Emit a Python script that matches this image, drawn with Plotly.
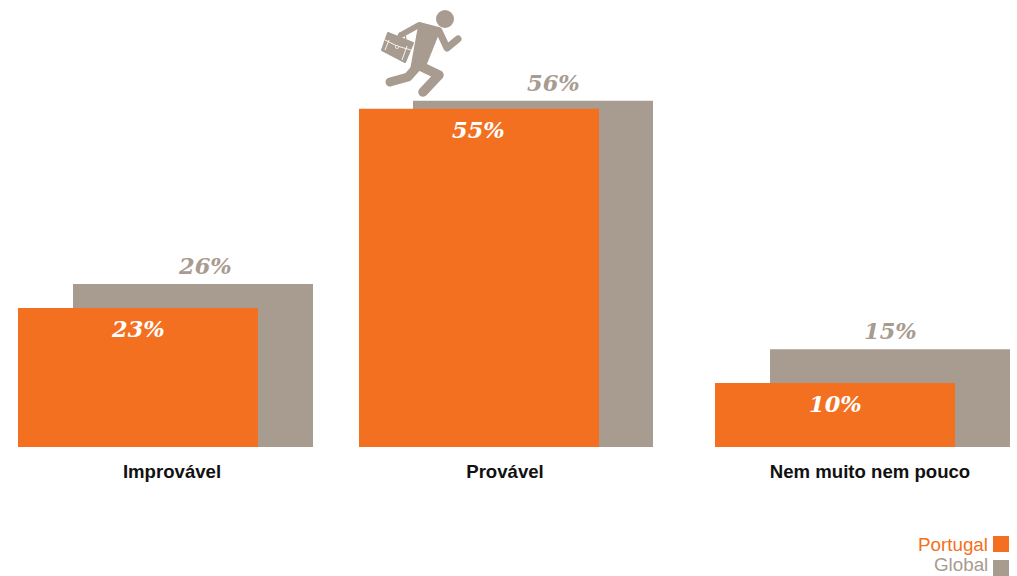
import base64
import plotly.graph_objects as go

categories = ["Improvável", "Provável", "Nem muito nem pouco"]
portugal_labels = ["23%", "55%", "10%"]
global_labels = ["26%", "56%", "15%"]
# bar heights as drawn in the picture
portugal_values = [22.6, 55.0, 10.4]
global_values = [26.5, 56.3, 15.9]

# horizontal placement, in axis units (the axis spans the page width)
portugal_x = [138, 479, 835]
global_x = [193, 533, 890]
tick_x = [172, 505, 870]
portugal_label_x = [138, 478, 835]
global_label_x = [205, 553, 890]
bar_width = 240

W, H = 1017, 576
BASE = 447
ORANGE = "#F47021"
GREY = "#A89B8F"

runner = f'''<svg xmlns="http://www.w3.org/2000/svg" width="100" height="100" viewBox="375 5 100 100">
<g fill="none" stroke="{GREY}" stroke-linecap="round" stroke-linejoin="round">
<circle cx="445" cy="19" r="9" fill="{GREY}" stroke="none"/>
<path d="M401 35 L419 25 L438 30" stroke-width="6"/>
<path d="M439 31 L447 48 L458 39" stroke-width="7"/>
<path d="M420 26 L438 31 L424 66 L412 70 Z" fill="{GREY}" stroke-width="4"/>
<path d="M416 68 L408 77 L390 82" stroke-width="9"/>
<path d="M420 66 L439 75 L423 92" stroke-width="9.5"/>
</g>
<path d="M388 33 L413 43 L405 62 L382 50 Z" fill="{GREY}" stroke="{GREY}" stroke-width="2" stroke-linejoin="round"/>
<path d="M398 36 L400 33 L405 35 L406 39" fill="none" stroke="{GREY}" stroke-width="1.4"/>
<path d="M385 40 L397 46 L411 50 M385 50 L389 40 M402 60 L407 46" fill="none" stroke="#fff" stroke-width="0.9"/>
<circle cx="397" cy="47" r="1.6" fill="{GREY}" stroke="#fff" stroke-width="0.7"/>
</svg>'''
runner_uri = "data:image/svg+xml;base64," + base64.b64encode(runner.encode()).decode()


def py(pix):
    """Paper y coordinate of a page pixel row."""
    return (BASE - pix) / BASE


fig = go.Figure()
fig.add_bar(x=global_x, y=global_values, width=bar_width, marker_color=GREY,
            marker_line_width=0, name="Global", hoverinfo="skip")
fig.add_bar(x=portugal_x, y=portugal_values, width=bar_width, marker_color=ORANGE,
            marker_line_width=0, name="Portugal", hoverinfo="skip")

serif = dict(family="DejaVu Serif", size=22.5, weight="bold", style="italic")
for x, y, t in zip(global_label_x, global_values, global_labels):
    fig.add_annotation(x=x, y=y, text=t, showarrow=False, yanchor="bottom", yshift=3,
                       font=dict(color=GREY, **serif))
for x, y, t in zip(portugal_label_x, portugal_values, portugal_labels):
    fig.add_annotation(x=x, y=y, text=t, showarrow=False, yanchor="top", yshift=-6,
                       font=dict(color="white", **serif))

legend_font = dict(family="Liberation Sans", size=18.8)
for name, color, cy, ty in [("Portugal", ORANGE, 544, 544), ("Global", GREY, 568, 564.5)]:
    fig.add_annotation(xref="paper", yref="paper", x=988 / W, y=py(ty), text=name,
                       showarrow=False, xanchor="right", yanchor="middle",
                       font=dict(color=color, **legend_font), xshift=2)
    fig.add_shape(type="rect", xref="paper", yref="paper", x0=993 / W, x1=1009 / W,
                  y0=py(cy - 8), y1=py(cy + 8), fillcolor=color, line_width=0)

fig.add_layout_image(source=runner_uri, xref="paper", yref="paper", x=375 / W, y=py(5),
                     sizex=100 / W, sizey=100 / BASE, xanchor="left", yanchor="top",
                     sizing="stretch", layer="above")

fig.update_layout(
    width=W, height=H, margin=dict(l=0, r=0, t=0, b=H - BASE),
    barmode="overlay", showlegend=False,
    paper_bgcolor="white", plot_bgcolor="white",
    xaxis=dict(range=[0, W], tickmode="array", tickvals=tick_x, ticktext=categories,
               showgrid=False, zeroline=False, showline=False,
               ticks="outside", ticklen=8, tickcolor="rgba(0,0,0,0)",
               tickfont=dict(family="Liberation Sans", size=18.6, weight="bold", color="#111111")),
    yaxis=dict(range=[0, BASE / 6.15], visible=False),
)
fig.write_html("out.html", config=dict(displayModeBar=False),
               post_script="document.body.style.margin='0';")
